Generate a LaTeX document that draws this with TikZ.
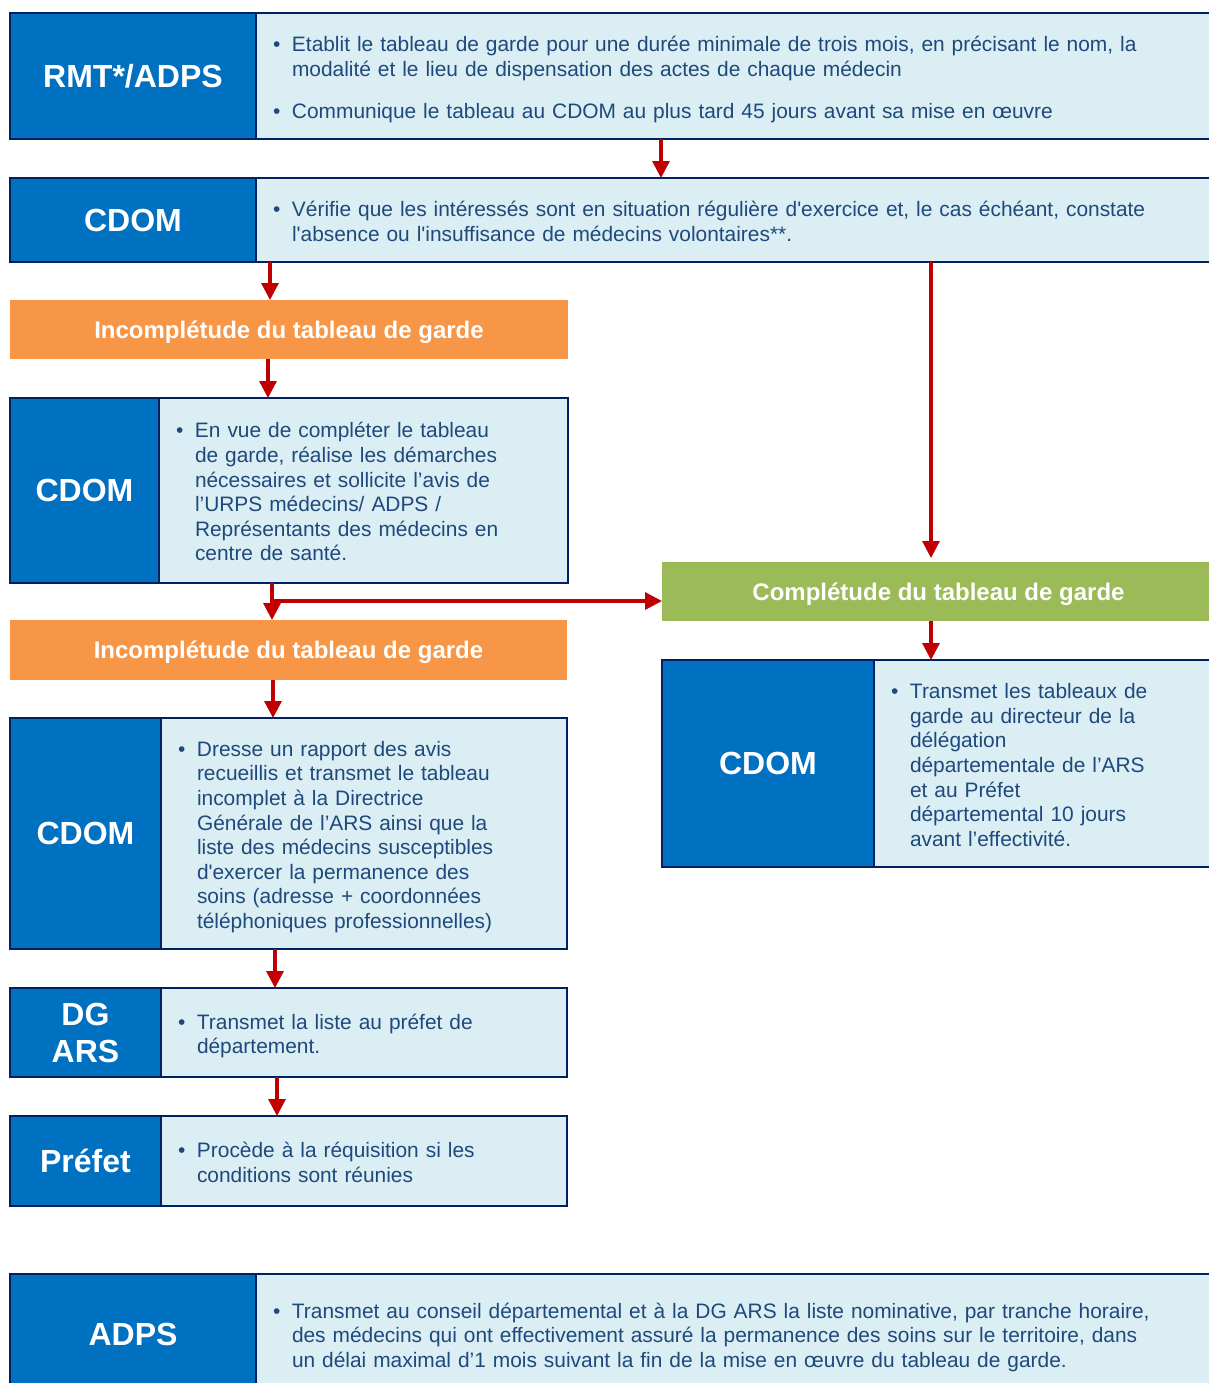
\documentclass[tikz,border=0pt]{standalone}
\usepackage{fontspec}
\setmainfont{Liberation Sans}
\usetikzlibrary{positioning, arrows.meta}
\definecolor{hdrblue}{HTML}{0070C0}
\definecolor{navy}{HTML}{002060}
\definecolor{lightb}{HTML}{DAEEF3}
\definecolor{txtblue}{HTML}{1F497D}
\definecolor{incorange}{HTML}{F79646}
\definecolor{compgreen}{HTML}{9BBB59}
\definecolor{arrred}{HTML}{C00000}
\newcommand\bodyfont{\fontsize{10.45}{12.3}\selectfont}
\newcommand\bul{\makebox[9.5pt][l]{\textbullet}}
\newcommand\sq{\textquotesingle}
\newcommand\items[1]{\noindent\begin{tabular}{@{}l@{}l@{}}\rule{0pt}{12.6pt}\ignorespaces#1\end{tabular}}

\begin{document}
\begin{tikzpicture}[x=0.5pt, y=-0.5pt,
    hdr/.style={anchor=north west, fill=hdrblue, draw=navy, line width=1pt, outer sep=0pt,
        text=white, align=center, font=\bfseries\fontsize{16}{18.5}\selectfont},
    txt/.style={fill=lightb, draw=navy, line width=1pt, outer sep=0pt, inner xsep=8.5pt,
        text width=#1, align=left, text=txtblue, font=\bodyfont},
    band/.style={anchor=north west, fill=#1, outer sep=0pt, text=white, text depth=0pt,
        font=\bfseries\fontsize{12}{14}\selectfont},
    arr/.style={draw=arrred, line width=1.6pt, -{Triangle[length=8.5pt, width=8.5pt]}}]
\useasboundingbox (0,0) rectangle (1209,1383);

% colonne de gauche
\node[hdr, minimum width=123pt, minimum height=63pt] (rmt) at (10,13) {RMT*/ADPS};
\node[txt=462.5pt, minimum height=63pt, right=0pt of rmt] (rmtT) {\items{
    \bul & Etablit le tableau de garde pour une durée minimale de trois mois, en précisant le nom, la\\
    & modalité et le lieu de dispensation des actes de chaque médecin\\[8.75pt]
    \bul & Communique le tableau au CDOM au plus tard 45 jours avant sa mise en œuvre}};

\node[hdr, minimum width=123pt, minimum height=42pt] (cdomA) at (10,178) {CDOM};
\node[txt=462.5pt, minimum height=42pt, right=0pt of cdomA] (cdomAT) {\items{
    \bul & Vérifie que les intéressés sont en situation régulière d\sq exercice et, le cas échéant, constate\\
    & l\sq absence ou l\sq insuffisance de médecins volontaires**.}};

\node[band=incorange, minimum width=279pt, minimum height=29.5pt] (inc1) at (10,300)
    {Incomplétude du tableau de garde};

\node[hdr, minimum width=74.5pt, minimum height=92.5pt] (cdomB) at (10,398) {CDOM};
\node[txt=187.5pt, minimum height=92.5pt, right=0pt of cdomB] (cdomBT) {\items{
    \bul & En vue de compléter le tableau\\
    & de garde, réalise les démarches\\
    & nécessaires et sollicite l’avis de\\
    & l’URPS médecins/ ADPS /\\
    & Représentants des médecins en\\
    & centre de santé.}};

\node[band=incorange, minimum width=278.5pt, minimum height=30pt] (inc2) at (10,620)
    {Incomplétude du tableau de garde};

\node[hdr, minimum width=75.5pt, minimum height=115.5pt] (cdomC) at (10,718) {CDOM};
\node[txt=186pt, minimum height=115.5pt, right=0pt of cdomC] (cdomCT) {\items{
    \bul & Dresse un rapport des avis\\
    & recueillis et transmet le tableau\\
    & incomplet à la Directrice\\
    & Générale de l’ARS ainsi que la\\
    & liste des médecins susceptibles\\
    & d\sq exercer la permanence des\\
    & soins (adresse + coordonnées\\
    & téléphoniques professionnelles)}};

\node[hdr, minimum width=75.5pt, minimum height=44.5pt] (dg) at (10,988) {DG\\ARS};
\node[txt=186pt, minimum height=44.5pt, right=0pt of dg] (dgT) {\items{
    \bul & Transmet la liste au préfet de\\
    & département.}};

\node[hdr, minimum width=75.5pt, minimum height=45pt] (prefet) at (10,1116) {Préfet};
\node[txt=186pt, minimum height=45pt, right=0pt of prefet] (prefetT) {\items{
    \bul & Procède à la réquisition si les\\
    & conditions sont réunies}};

\node[hdr, minimum width=123pt, minimum height=60pt] (adps) at (10,1274) {ADPS};
\node[txt=462.5pt, minimum height=60pt, right=0pt of adps] (adpsT) {\items{
    \bul & Transmet au conseil départemental et à la DG ARS la liste nominative, par tranche horaire,\\
    & des médecins qui ont effectivement assuré la permanence des soins sur le territoire, dans\\
    & un délai maximal d’1 mois suivant la fin de la mise en œuvre du tableau de garde.}};

% colonne de droite
\node[band=compgreen, minimum width=276.5pt, minimum height=29.5pt] (comp) at (662,562)
    {Complétude du tableau de garde};

\node[hdr, minimum width=106pt, minimum height=103.5pt] (cdomD) at (662,660) {CDOM};
\node[txt=153.5pt, minimum height=103.5pt, right=0pt of cdomD] (cdomDT) {\items{
    \bul & Transmet les tableaux de\\
    & garde au directeur de la\\
    & délégation\\
    & départementale de l’ARS\\
    & et au Préfet\\
    & départemental 10 jours\\
    & avant l’effectivité.}};

% fleches
\draw[arr] ([xshift=202.5pt]rmtT.south west) -- ([xshift=202.5pt]cdomAT.north west);
\draw[arr] ([xshift=130pt]cdomA.south west) -- ([xshift=130pt]inc1.north west);
\draw[arr] ([xshift=129pt]inc1.south west) -- ([xshift=129pt]cdomB.north west);
\draw[arr] ([xshift=131pt]cdomB.south west) -- ([xshift=131pt]inc2.north west);
\coordinate (fork) at ([xshift=131pt, yshift=-9pt]cdomB.south west);
\draw[arr] (fork) -- (fork -| comp.west);
\draw[arr] ([xshift=131.5pt]inc2.south west) -- ([xshift=131.5pt]cdomC.north west);
\draw[arr] ([xshift=132.5pt]cdomC.south west) -- ([xshift=132.5pt]dg.north west);
\draw[arr] ([xshift=133.5pt]dg.south west) -- ([xshift=133.5pt]prefet.north west);
\draw[arr] ([xshift=337.5pt]cdomAT.south west) -- ([xshift=134.5pt, yshift=2pt]comp.north west);
\draw[arr] ([xshift=134.5pt]comp.south west) -- ([xshift=134.5pt]cdomD.north west);
\end{tikzpicture}
\end{document}
